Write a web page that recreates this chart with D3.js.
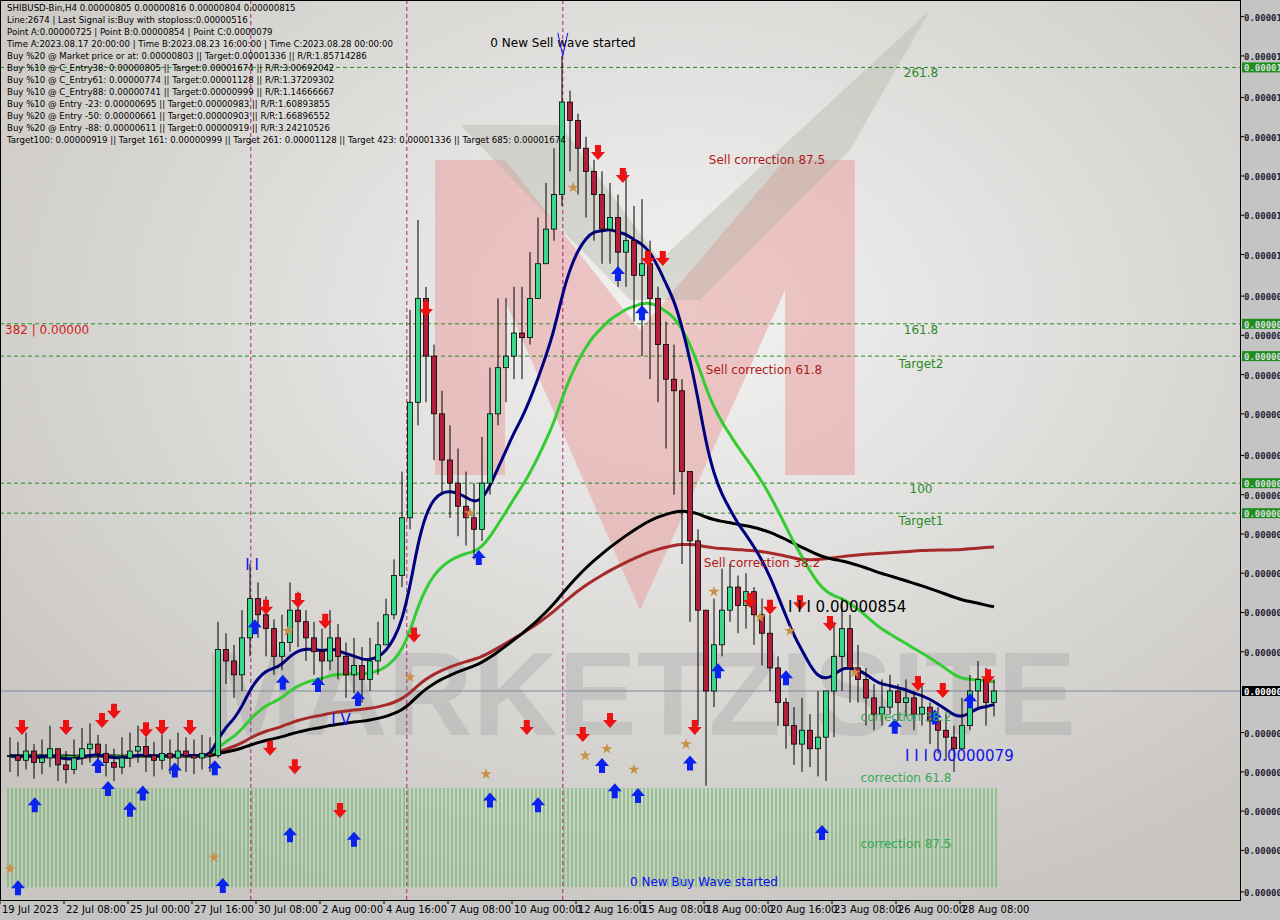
<!DOCTYPE html>
<html><head><meta charset="utf-8">
<script src="https://cdn.jsdelivr.net/npm/d3@7"></script>
<style>body{margin:0;background:#c4c4c4}svg{display:block;font-family:Tahoma,"DejaVu Sans",sans-serif}</style>
</head><body><svg id="chart" width="1280" height="920"></svg>
<script>
// prices in units of 1e-8
const closes = [787,785,789,784,786,790,783,781,786,790,792,788,784,782,786,789,791,787,785,788,786,789,787,786,788,787,
  833,828,822,838,855,848,842,830,836,850,845,838,832,828,838,830,822,826,820,828,835,848,865,890,
  940,985,960,935,915,905,895,890,885,905,935,955,960,970,968,985,1000,1015,1030,
  1070,1062,1050,1040,1030,1015,1020,1005,1010,995,1000,985,965,950,945,910,880,850,
  815,835,850,860,852,858,848,840,825,810,800,792,798,790,795,815,830,842,825,
  820,812,805,808,815,810,812,805,808,802,798,795,790,800,815,820,810,815];
const highs = [795,793,797,792,794,800,790,789,794,799,801,796,792,790,795,797,800,795,793,796,794,797,795,794,796,795,
  845,840,835,850,870,862,856,846,848,862,858,850,845,842,850,844,836,838,834,838,845,855,872,910,
  980,1019,990,965,945,930,920,910,905,925,955,985,985,990,990,1005,1020,1035,1050,
  1090,1075,1065,1055,1045,1040,1035,1030,1040,1025,1028,1010,990,975,965,950,910,885,
  850,855,868,870,865,866,860,855,848,830,812,808,812,805,815,815,845,855,848,
  835,825,818,820,822,818,820,815,818,810,808,805,800,812,822,828,825,820];
const lows = [780,778,781,777,779,782,776,775,779,783,784,781,778,776,779,782,784,780,778,781,779,782,780,779,781,780,
  786,818,812,815,830,838,830,822,824,832,834,828,822,818,824,820,812,814,810,815,822,835,846,860,
  885,930,940,915,900,890,882,878,872,880,900,930,940,950,950,965,985,1000,1010,
  1025,1040,1030,1020,1010,1000,1000,990,990,975,960,950,940,920,900,870,845,800,
  774,808,830,845,840,842,835,826,815,800,790,783,780,782,778,776,795,815,810,
  810,800,798,800,805,802,804,798,800,792,788,785,780,790,798,808,800,804];
const dateLabels = ["19 Jul 2023","22 Jul 08:00","25 Jul 00:00","27 Jul 16:00","30 Jul 08:00","2 Aug 00:00","4 Aug 16:00","7 Aug 08:00","10 Aug 00:00","12 Aug 16:00","15 Aug 08:00","18 Aug 00:00","20 Aug 16:00","23 Aug 08:00","26 Aug 00:00","28 Aug 08:00"];
const priceTicks = [1107,1090,1072,1055,1038,1021,1004,986,969,952,935,917,900,883,866,849,832,797,780,763,746,728];
const lastPrice = 815;
const fibLevels = [{p:1085,t:"261.8"},{p:974,t:"161.8"},{p:960,t:"Target2"},{p:905,t:"100"},{p:892,t:"Target1"}];
const headerLines = [
 "SHIBUSD-Bin,H4  0.00000805 0.00000816 0.00000804 0.00000815",
 "Line:2674 | Last Signal is:Buy with stoploss:0.00000516",
 "Point A:0.00000725 | Point B:0.00000854 | Point C:0.0000079",
 "Time A:2023.08.17 20:00:00 | Time B:2023.08.23 16:00:00 | Time C:2023.08.28 00:00:00",
 "Buy %20 @ Market price or at: 0.00000803 || Target:0.00001336 || R/R:1.85714286",
 "Buy %10 @ C_Entry38: 0.00000805 || Target:0.00001674 || R/R:3.00692042",
 "Buy %10 @ C_Entry61: 0.00000774 || Target:0.00001128 || R/R:1.37209302",
 "Buy %10 @ C_Entry88: 0.00000741 || Target:0.00000999 || R/R:1.14666667",
 "Buy %10 @ Entry -23: 0.00000695 || Target:0.00000983 || R/R:1.60893855",
 "Buy %20 @ Entry -50: 0.00000661 || Target:0.00000903 || R/R:1.66896552",
 "Buy %20 @ Entry -88: 0.00000611 || Target:0.00000919 || R/R:3.24210526",
 "Target100: 0.00000919 || Target 161: 0.00000999 || Target 261: 0.00001128 || Target 423: 0.00001336 || Target 685: 0.00001674"];
const sellArrows = [[1.5,799],[7,799],[11.5,802],[13,806],[17,798],[19,799],[22.5,799],[32.5,790],[32,851],[36,854],[39.4,845],[50.5,839],[52,980],[64.6,799],[71.6,796],[75,802],[73.5,1048],[76.6,1038],[79.75,1002],[81.6,1002],[85.6,799],[92.5,854],[95,851],[98.75,853],[102.5,844],[113.5,818],[116.6,815],[122.25,821],[35.6,782],[41.25,763]];
const buyArrows = [[1,730],[3.1,766],[11,783],[12.25,773],[15,764],[16.6,771],[20.6,781],[25.6,782],[26.6,731],[30.6,843],[34.1,819],[35,753],[38.5,818],[43,751],[43.5,812],[58.6,873],[60,768],[66,766],[74,783],[75.6,772],[78.5,770],[76,996],[79,979],[85,784],[88.5,824],[97,821],[101.5,754],[110.6,800],[115.6,804],[120,811]];
const stars = [[70.4,1033],[34.75,841],[50,821],[57.5,892],[88,858],[93.75,847],[97.5,841],[105.6,823],[84.5,792],[74.6,790],[71.9,787],[59.5,779],[78,781],[25.5,743],[0,738]];
const vLines = [30.1,49.6,69.1];

const W = 1240, H = 900;
const svg = d3.select("#chart");
const x = d3.scaleLinear().domain([0,1]).range([10,18]);
const y = d3.scaleLinear().domain([815,1109]).range([691,12]);

// background
const grad = svg.append("defs").append("radialGradient").attr("id","bg").attr("cx","55%").attr("cy","35%").attr("r","70%");
grad.append("stop").attr("offset","0%").attr("stop-color","#f2f2f1");
grad.append("stop").attr("offset","100%").attr("stop-color","#c9c6c2");
svg.append("rect").attr("width",W).attr("height",H).attr("fill","url(#bg)");
svg.append("clipPath").attr("id","clip").append("rect").attr("width",W).attr("height",H);
const g = svg.append("g").attr("clip-path","url(#clip)");

// watermark
g.append("path").attr("d","M435,160 L505,160 L640,330 L785,160 L855,160 L855,475 L785,475 L785,290 L640,610 L505,300 L505,475 L435,475 Z")
  .attr("fill","#e89a9a").attr("opacity",0.5);
g.append("path").attr("d","M460,125 L560,125 L660,260 L930,10 L850,150 L700,300 L630,300 Z").attr("fill","#b5b5a8").attr("opacity",0.4);
g.append("text").attr("x",640).attr("y",735).attr("text-anchor","middle").attr("font-size",118).attr("font-weight","bold")
  .attr("fill","#9a9a9a").attr("opacity",0.3).attr("font-family","Liberation Sans, Arial").text("MARKETZISITE");

// histogram
const hist = d3.range(0, closes.length*2).map(k => k/2);
g.selectAll(".hist").data(hist).enter().append("line")
  .attr("x1",d=>x(d)-2).attr("x2",d=>x(d)-2).attr("y1",y(773)).attr("y2",y(730))
  .attr("stroke","#4cb84c").attr("stroke-width",1);

// vertical dashed lines
g.selectAll(".vl").data(vLines).enter().append("line")
  .attr("x1",d=>x(d)).attr("x2",d=>x(d)).attr("y1",0).attr("y2",H)
  .attr("stroke","#b0207a").attr("stroke-dasharray","4,3");

// fib lines
g.selectAll(".fib").data(fibLevels).enter().append("line")
  .attr("x1",0).attr("x2",W).attr("y1",d=>y(d.p)).attr("y2",d=>y(d.p))
  .attr("stroke","#2a8a2a").attr("stroke-dasharray","4,3");
g.selectAll(".fibt").data(fibLevels).enter().append("text")
  .attr("x",921).attr("y",d=>y(d.p)+(d.t.startsWith("T")?12:10)).attr("text-anchor","middle")
  .attr("font-size",12).attr("fill","#2a8a2a").text(d=>d.t);
g.append("line").attr("x1",0).attr("x2",W).attr("y1",y(lastPrice)).attr("y2",y(lastPrice)).attr("stroke","#7a8aa0");

// moving averages
function ema(n){ const a = 2/(n+1); let v = closes[0]; return closes.map(c => (v = v + a*(c - v))); }
function sma(n){ return closes.map((c,i)=>d3.mean(closes.slice(Math.max(0,i-n+1),i+1))); }
const maLine = d3.line().x((d,i)=>x(i)).y(d=>y(d)).curve(d3.curveBasis);
[[sma(100),"#a52a2a"],[ema(100),"#000"],[ema(26),"#33cc33"],[ema(12),"#000080"]].forEach(([s,c])=>{
  g.append("path").datum(s).attr("d",maLine).attr("fill","none").attr("stroke",c).attr("stroke-width",3);
});

// candles
const bars = closes.map((c,i)=>({i, o: i?closes[i-1]:c, c, h:highs[i], l:lows[i]}));
const cg = g.selectAll(".candle").data(bars).enter().append("g");
cg.append("line").attr("x1",d=>x(d.i)).attr("x2",d=>x(d.i)).attr("y1",d=>y(d.h)).attr("y2",d=>y(d.l)).attr("stroke","#000");
cg.append("rect").attr("x",d=>x(d.i)-2.5).attr("width",5)
  .attr("y",d=>y(Math.max(d.o,d.c))).attr("height",d=>Math.max(1,Math.abs(y(d.o)-y(d.c))))
  .attr("fill",d=>d.c>=d.o?"#3cd68a":"#b0203a").attr("stroke","#000").attr("stroke-width",0.8);

// arrows
const down = "M-3,-8 L3,-8 L3,-1 L7,-1 L0,7 L-7,-1 L-3,-1 Z";
const up = "M-3,8 L3,8 L3,1 L7,1 L0,-7 L-7,1 L-3,1 Z";
g.selectAll(".sa").data(sellArrows).enter().append("path").attr("d",down)
  .attr("transform",d=>`translate(${x(d[0])},${y(d[1])})`).attr("fill","#ee1111");
g.selectAll(".ba").data(buyArrows).enter().append("path").attr("d",up)
  .attr("transform",d=>`translate(${x(d[0])},${y(d[1])})`).attr("fill","#0a22ee");
g.selectAll(".st").data(stars).enter().append("path").attr("d",d3.symbol(d3.symbolStar,40))
  .attr("transform",d=>`translate(${x(d[0])},${y(d[1])})`).attr("fill","#c8904a");

// annotations
const ann = [
 [563,47,"0 New Sell wave started","#000",12,"middle"],
 [767,164,"Sell correction 87.5","#b01818",12,"middle"],
 [764,374,"Sell correction 61.8","#b01818",12,"middle"],
 [762,567,"Sell correction 38.2","#b01818",12,"middle"],
 [788,612,"I I I 0.00000854","#000",15,"start"],
 [905,761,"I I I 0.0000079","#1010ee",15,"start"],
 [906,721,"correction 38.2","#33aa55",12,"middle"],
 [906,782,"correction 61.8","#33aa55",12,"middle"],
 [906,848,"correction 87.5","#33aa55",12,"middle"],
 [704,886,"0 New Buy Wave started","#1010ee",12,"middle"],
 [341,725,"I V","#1010ee",15,"middle"],
 [252,570,"I  I","#1010ee",15,"middle"],
 [5,334,"382 | 0.00000","#d02020",12,"start"]];
g.selectAll(".ann").data(ann).enter().append("text")
  .attr("x",d=>d[0]).attr("y",d=>d[1]).attr("fill",d=>d[3]).attr("font-size",d=>d[4])
  .attr("text-anchor",d=>d[5]).text(d=>d[2]);
g.append("path").attr("d",`M${x(69.1)-5},${y(1100)} L${x(69.1)},${y(1090)} L${x(69.1)+5},${y(1100)}`).attr("fill","none").attr("stroke","#1010ee");

// header text
g.selectAll(".hd").data(headerLines).enter().append("text")
  .attr("x",7).attr("y",(d,i)=>11+i*12).attr("font-size",8.6).attr("fill","#000").text(d=>d);

// frame and axes
svg.append("rect").attr("x",0.5).attr("y",0.5).attr("width",W).attr("height",H).attr("fill","none").attr("stroke","#000");
svg.append("clipPath").attr("id","axclip").append("rect").attr("x",W).attr("width",40).attr("height",H+20);
const ya = svg.append("g").attr("font-size",9).attr("font-weight","bold").attr("font-family","DejaVu Sans Mono, monospace").attr("clip-path","url(#axclip)");
ya.selectAll(".t").data(priceTicks).enter().append("g").each(function(p){
  const s = d3.select(this);
  s.append("line").attr("x1",W).attr("x2",W+4).attr("y1",y(p)).attr("y2",y(p)).attr("stroke","#000");
  s.append("text").attr("x",W+4).attr("y",y(p)+4).attr("fill","#223").text((p*1e-8).toFixed(8));
});
ya.selectAll(".fl").data(fibLevels).enter().append("g").each(function(d){
  const s = d3.select(this);
  s.append("rect").attr("x",W+2).attr("y",y(d.p)-5).attr("width",40).attr("height",10).attr("fill","#1f8f1f");
  s.append("text").attr("x",W+4).attr("y",y(d.p)+4).attr("fill","#ddd").text((d.p*1e-8).toFixed(8));
});
ya.append("rect").attr("x",W+2).attr("y",y(lastPrice)-5).attr("width",40).attr("height",10).attr("fill","#000");
ya.append("text").attr("x",W+4).attr("y",y(lastPrice)+4).attr("fill","#fff").text((lastPrice*1e-8).toFixed(8));

const xa = svg.append("g").attr("font-size",10);
xa.selectAll("text").data(dateLabels).enter().append("text")
  .attr("x",(d,i)=>x(2+i*8)-24).attr("y",913).text(d=>d);
xa.selectAll("line").data(dateLabels).enter().append("line")
  .attr("x1",(d,i)=>x(2+i*8)-26).attr("x2",(d,i)=>x(2+i*8)-26).attr("y1",H).attr("y2",H+4).attr("stroke","#000");
</script></body></html>
